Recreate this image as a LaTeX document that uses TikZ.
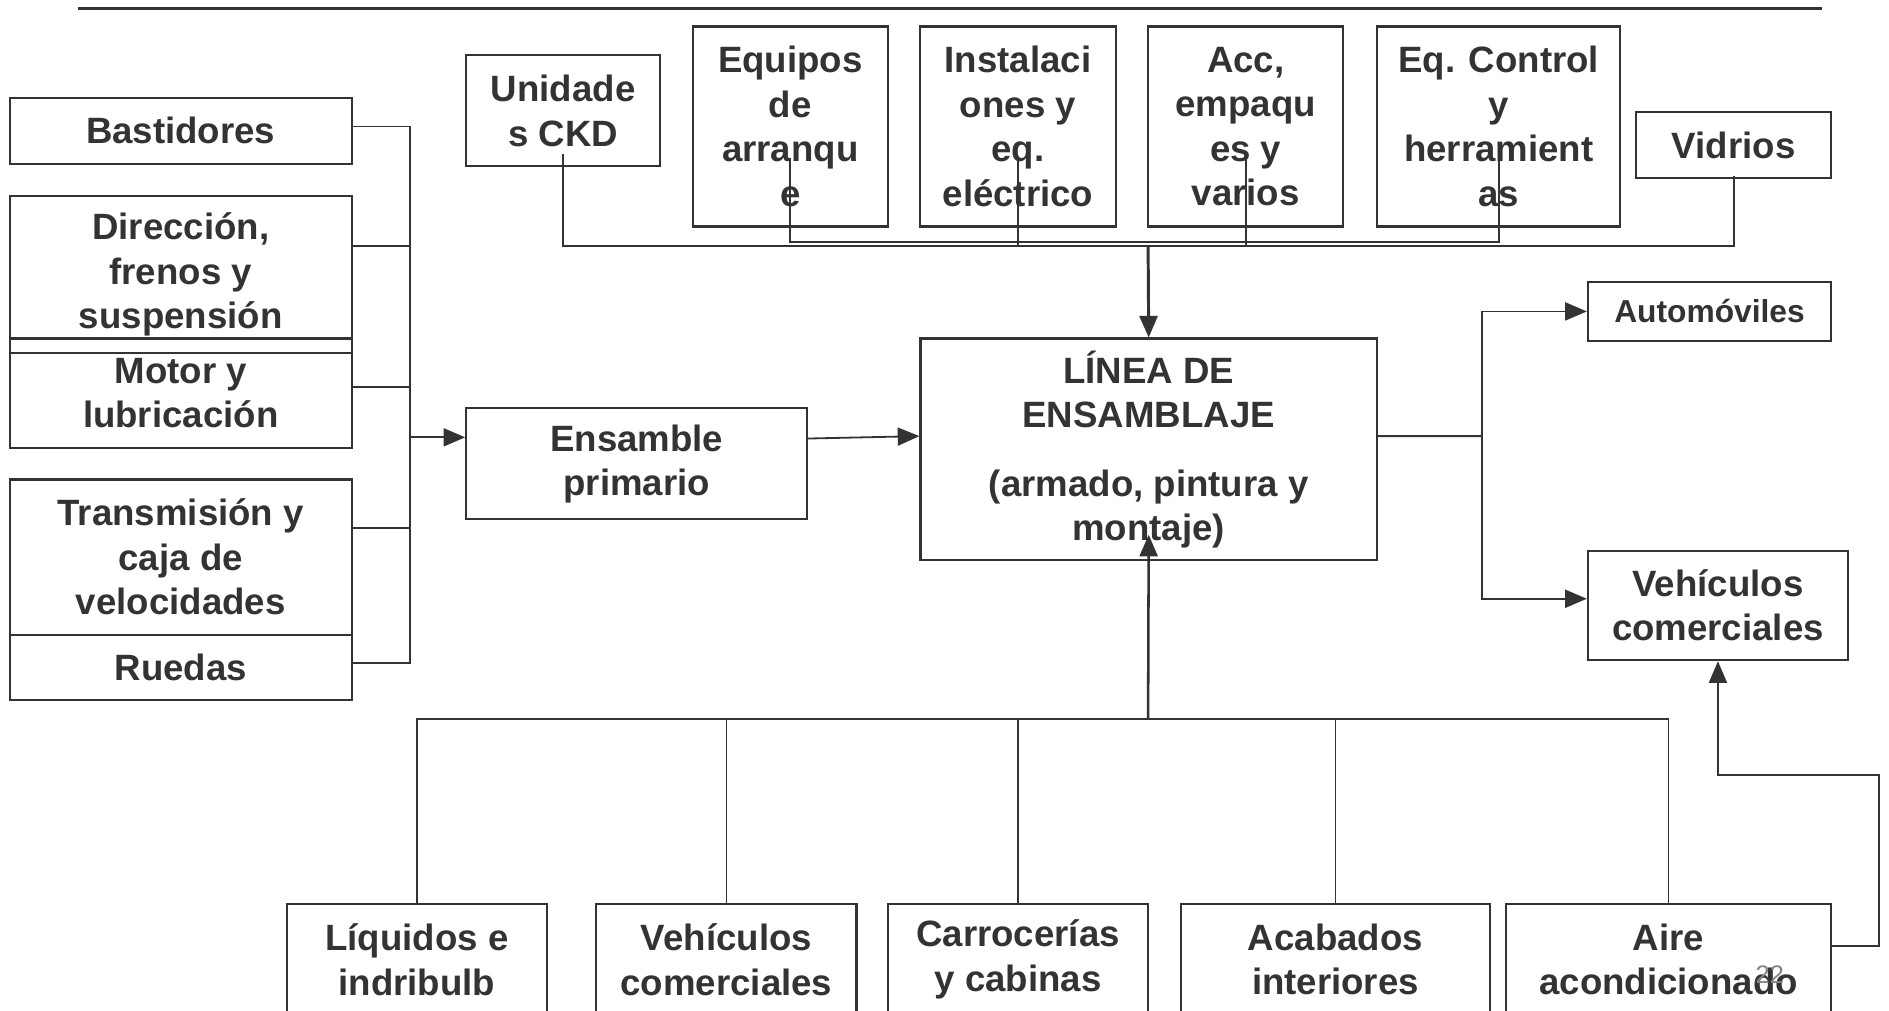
\documentclass[tikz,border=0pt]{standalone}
\usepackage{fontspec}
\setmainfont{Liberation Sans}
\usetikzlibrary{arrows.meta}
\definecolor{ink}{HTML}{333333}
\begin{document}
\begin{tikzpicture}[x=0.02cm,y=-0.02cm,line join=miter,
    box/.style={draw=ink,line width=1pt,inner sep=0pt,align=center,text=ink,
      font=\fontsize{17.3}{21}\selectfont\bfseries},
    link/.style={draw=ink,line width=0.85pt},
    feed/.style={link,-{Triangle[length=0.36cm,width=0.3cm]}}]
  \useasboundingbox (0,0) rectangle (1568,839);
  \draw[ink,line width=1.2pt] (65,7) -- (1512,7);

  % parts on the left
  \node[box,minimum width=5.68cm,minimum height=1.1cm]  (bast)  at (150,108.5) {Bastidores};
  \node[box,minimum width=5.68cm,minimum height=2.6cm]  (dir)   at (150,228)   {Dirección,\\frenos y\\suspensión};
  \node[box,minimum width=5.68cm,minimum height=1.82cm] (mot)   at (150,326.5) {Motor y\\lubricación};
  \node[box,minimum width=5.68cm,minimum height=2.58cm] (trans) at (150,462.5) {Transmisión y\\caja de\\velocidades};
  \node[box,minimum width=5.68cm,minimum height=1.08cm] (rued)  at (150,554)   {Ruedas};

  \node[box,minimum width=5.66cm,minimum height=1.84cm] (ens) at (528.5,385) {Ensamble\\primario};
  \node[box,minimum width=7.58cm,minimum height=3.68cm] (lin) at (953.5,373)
    {LÍNEA DE\\ENSAMBLAJE\\[0.4cm](armado, pintura y\\montaje)};

  % parts on top
  \node[box,minimum width=3.22cm,minimum height=1.84cm] (ckd)  at (467.5,92)  {Unidade\\s CKD};
  \node[box,minimum width=3.24cm,minimum height=3.32cm] (equ)  at (656,105)   {Equipos\\de\\arranqu\\e};
  \node[box,minimum width=3.24cm,minimum height=3.32cm] (inst) at (845,105)   {Instalaci\\ones y\\eq.\\eléctrico};
  \node[box,minimum width=3.24cm,minimum height=3.32cm] (acc)  at (1034,105)  {Acc,\\empaqu\\es y\\varios};
  \node[box,minimum width=4.04cm,minimum height=3.32cm] (ctrl) at (1244,105)  {Eq. Control\\y\\herramient\\as};
  \node[box,minimum width=3.24cm,minimum height=1.1cm]  (vid)  at (1439,120.5) {Vidrios};

  % outputs
  \node[box,minimum width=4.04cm,minimum height=0.98cm,font=\fontsize{15}{18}\selectfont\bfseries]
    (auto) at (1419,258.5) {Automóviles};
  \node[box,minimum width=4.32cm,minimum height=1.82cm] (vcr) at (1426,502.5) {Vehículos\\comerciales};

  % parts below
  \node[box,minimum width=4.32cm,minimum height=1.86cm] (liq)  at (346,796.5)    {Líquidos e\\indribulb};
  \node[box,minimum width=4.32cm,minimum height=1.86cm] (vco)  at (603,796.5)    {Vehículos\\comerciales};
  \node[box,minimum width=4.32cm,minimum height=1.86cm] (carr) at (845,796.5)    {Carrocerías\\y cabinas};
  \node[box,minimum width=5.14cm,minimum height=1.86cm] (acab) at (1108.5,796.5) {Acabados\\interiores};
  \node[box,minimum width=5.4cm,minimum height=1.86cm]  (aire) at (1385,796.5)   {Aire\\acondicionado};
  \node[text=ink!60,font=\fontsize{12}{14}\selectfont] (pgnum) at (1469,809) {22};

  % left bus
  \coordinate (busT) at (340,105);
  \coordinate (busB) at (340,550);
  \coordinate (busin) at (340,363);
  \draw[link] ([yshift=0.07cm]bast.east) -- +(48,0);
  \draw[link] ([yshift=0.48cm]dir.east) -- +(48,0);
  \draw[link] ([yshift=0.11cm]mot.east) -- +(48,0);
  \draw[link] ([yshift=0.49cm]trans.east) -- +(48,0);
  \draw[link] ([yshift=0.08cm]rued.east) -- +(48,0);
  \draw[link] (busT) -- (busB);
  \draw[feed] (busin) -- (busin -| ens.west);
  \draw[feed] ([yshift=0.42cm]ens.east) -- ([yshift=0.22cm]lin.west);

  % top bus
  \coordinate (tjoin) at (953,204);
  \coordinate (tjoin2) at (953,201);
  \draw[link] ([yshift=0.22cm]ckd.south) |- (tjoin) -| ([yshift=0.06cm]vid.south);
  \draw[link] ([yshift=1.16cm]equ.south) |- (tjoin2) -| ([yshift=1.26cm]ctrl.south);
  \draw[link] ([yshift=1.16cm]inst.south) -- (inst.south |- tjoin);
  \draw[link] ([yshift=1.16cm]acc.south) -- (acc.south |- tjoin);
  \draw[feed,line width=1.4pt] (tjoin) -- (lin.north);

  % bottom bus
  \coordinate (bjoin) at (953,597);
  \draw[link] (liq.north) |- (bjoin) -| (aire.north);
  \draw[link] (vco.north) -- (vco.north |- bjoin);
  \draw[link] (carr.north) -- (carr.north |- bjoin);
  \draw[link] (acab.north) -- (acab.north |- bjoin);
  \draw[feed,line width=1.2pt] (bjoin) -- ([yshift=0.44cm]lin.south);

  % outputs
  \coordinate (rjoin) at (1230,362);
  \draw[link] ([yshift=0.22cm]lin.east) -- (rjoin);
  \draw[feed] (rjoin) |- (auto.west);
  \draw[feed] (rjoin) |- ([yshift=0.11cm]vcr.west);
  \coordinate (loop) at (1560,643);
  \draw[feed] ([yshift=0.23cm]aire.east) -| (loop) -| (vcr.south);
\end{tikzpicture}
\end{document}
